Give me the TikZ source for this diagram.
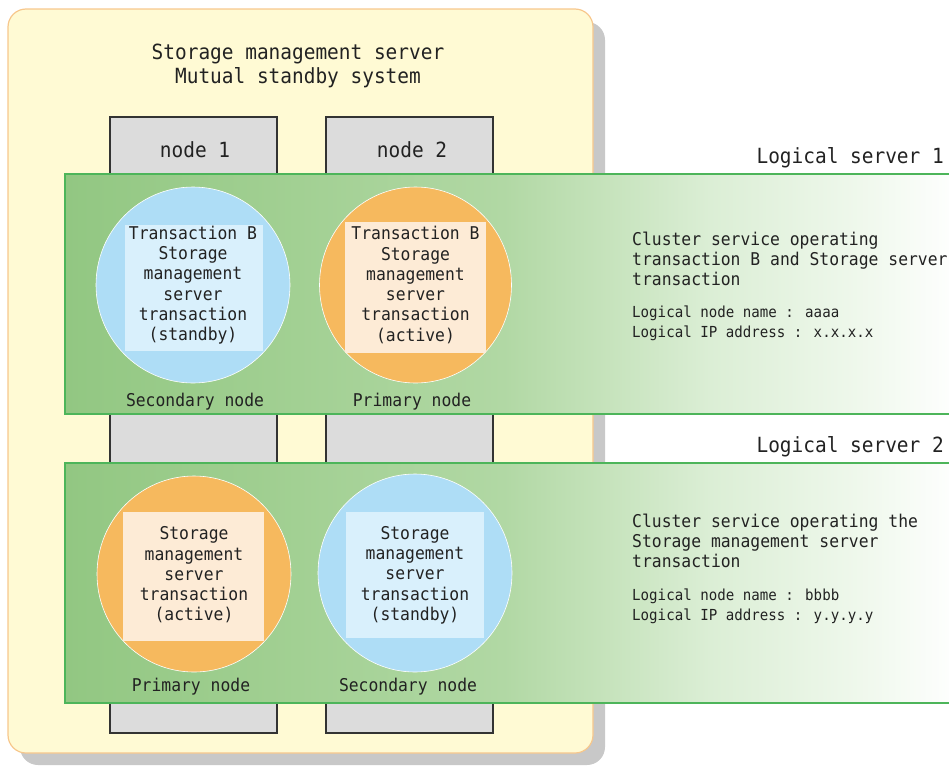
\documentclass[tikz,border=0pt]{standalone}
\usepackage{fontspec}
\newfontfamily\mono[FakeStretch=0.93]{DejaVu Sans Mono}
\usetikzlibrary{shapes.geometric}
\definecolor{cream}{HTML}{FFFAD4}
\definecolor{creamline}{HTML}{F7C78C}
\definecolor{shadowgray}{HTML}{C8C8C8}
\definecolor{boxgray}{HTML}{DCDCDC}
\definecolor{boxline}{HTML}{333333}
\definecolor{gA}{HTML}{92C782}
\definecolor{gB}{HTML}{A2D093}
\definecolor{gC}{HTML}{B1D8A4}
\definecolor{gD}{HTML}{C6E3BC}
\definecolor{gE}{HTML}{DBEED5}
\definecolor{gF}{HTML}{EFF8EC}
\definecolor{gline}{HTML}{4DB55A}
\definecolor{bluec}{HTML}{AEDDF6}
\definecolor{bluein}{HTML}{D9F0FC}
\definecolor{orangec}{HTML}{F6B95E}
\definecolor{orangein}{HTML}{FDEBD6}
\definecolor{txt}{HTML}{222222}
\pgfdeclarehorizontalshading{bandshade}{100bp}{color(0bp)=(gA); color(25bp)=(gA); color(38bp)=(gB); color(49.5bp)=(gC); color(55.3bp)=(gD); color(61bp)=(gE); color(69.4bp)=(gF); color(75bp)=(white); color(100bp)=(white)}
\tikzset{
  bigtxt/.style={font=\mono\fontsize{20.9}{24}\selectfont, text=txt, inner sep=0pt},
  bodytxt/.style={font=\mono\fontsize{17.6}{20.3}\selectfont, text=txt, inner sep=0pt, align=center},
  smalltxt/.style={font=\mono\fontsize{15.2}{20}\selectfont, text=txt, inner sep=0pt, align=left},
  srvbox/.style={draw=boxline, line width=1.3pt, fill=boxgray},
  band/.style={shading=bandshade},
  bluecirc/.style={fill=bluec, draw=white, line width=0.6pt},
  orangecirc/.style={fill=orangec, draw=white, line width=0.6pt},
}
\begin{document}
\begin{tikzpicture}[x=1pt,y=-1pt]
\useasboundingbox (0,0) rectangle (949,766);
% outer system box
\fill[shadowgray, rounded corners=18pt] (20,22) rectangle (605,765);
\draw[fill=cream, draw=creamline, line width=1.2pt, rounded corners=18pt] (8,9) rectangle (593,753);
\node[bigtxt, align=center] (title) at (298,66) {Storage management server\\Mutual standby system};
% node boxes
\draw[srvbox] (110,117) rectangle (277,733);
\draw[srvbox] (326,117) rectangle (493,733);
\node[bigtxt] (n1) at (195,150) {node 1};
\node[bigtxt] (n2) at (412,150) {node 2};
% band 1
\begin{scope}
\clip (0,0) rectangle (949,766);
\shade[band] (65,174) rectangle (960,414);
\draw[gline, line width=1.8pt] (960,174) -- (65,174) -- (65,414) -- (960,414);
\shade[band] (65,463) rectangle (960,703);
\draw[gline, line width=1.8pt] (960,463) -- (65,463) -- (65,703) -- (960,703);
\end{scope}
\node[bigtxt, anchor=east] (ls1) at (944,158) {Logical server 1};
\node[bigtxt, anchor=east] (ls2) at (944,447) {Logical server 2};
% band 1 circles
\node[bluecirc, ellipse, minimum width=194pt, minimum height=196pt, inner sep=0pt] (c11) at (193,285) {};
\fill[bluein] (125,225) rectangle (263,351);
\node[bodytxt] (t11) at (193,285) {Transaction B\\Storage\\management\\server\\transaction\\(standby)};
\node[orangecirc, ellipse, minimum width=192pt, minimum height=196pt, inner sep=0pt] (c12) at (415.5,285) {};
\fill[orangein] (345,222) rectangle (486,353);
\node[bodytxt] (t12) at (415.5,285) {Transaction B\\Storage\\management\\server\\transaction\\(active)};
\node[bodytxt] (s11) at (195,402) {Secondary node};
\node[bodytxt] (p12) at (412,402) {Primary node};
% band 1 right text
\node[bodytxt, align=left, anchor=west] (d1) at (632,259) {Cluster service operating\\transaction B and Storage server\\transaction};
\node[smalltxt, anchor=west] (e1) at (632,323) {Logical node name : aaaa\\Logical IP address : x.x.x.x};
% band 2 circles
\node[orangecirc, ellipse, minimum width=194pt, minimum height=196pt, inner sep=0pt] (c21) at (194,574) {};
\fill[orangein] (123,512) rectangle (264,641);
\node[bodytxt] (t21) at (194,575) {Storage\\management\\server\\transaction\\(active)};
\node[bluecirc, ellipse, minimum width=194pt, minimum height=198pt, inner sep=0pt] (c22) at (415,573) {};
\fill[bluein] (346,512) rectangle (484,638);
\node[bodytxt] (t22) at (415,575) {Storage\\management\\server\\transaction\\(standby)};
\node[bodytxt] (p21) at (191,687) {Primary node};
\node[bodytxt] (s22) at (408,687) {Secondary node};
% band 2 right text
\node[bodytxt, align=left, anchor=west] (d2) at (632,541) {Cluster service operating the\\Storage management server\\transaction};
\node[smalltxt, anchor=west] (e2) at (632,606) {Logical node name : bbbb\\Logical IP address : y.y.y.y};
\end{tikzpicture}
\end{document}
